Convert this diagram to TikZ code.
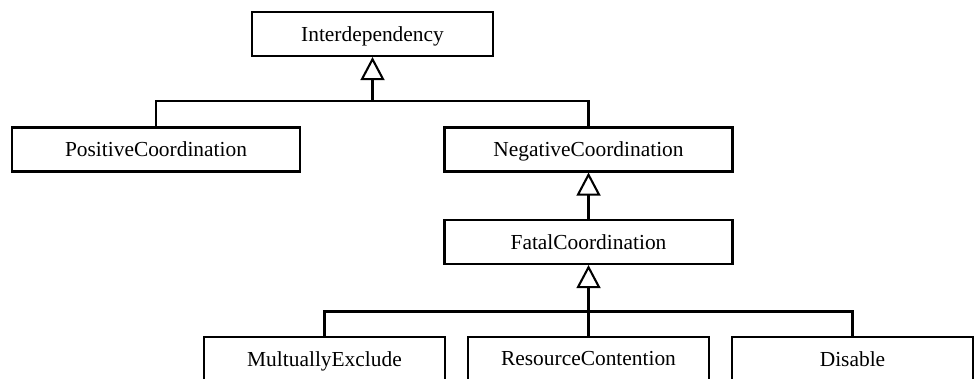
\documentclass[tikz,border=0pt]{standalone}
\usepackage{fontspec}
\setmainfont{Liberation Serif}
\usetikzlibrary{arrows.meta}

\begin{document}
\begin{tikzpicture}[scale=0.22, line width=1.3pt]
				\tikzstyle{every node}+=[inner sep=0pt]
				\tikzstyle{cls}=[draw, black, line width=1.3pt, fill=white, minimum height=27.5pt, text depth=0.5pt, font=\fontsize{13.4}{15}\selectfont]
				\tikzstyle{wide}=[cls, minimum width=180.3pt]
				\tikzstyle{narrow}=[cls, minimum width=150.9pt]
				\tikzstyle{isa}=[-{Triangle[open, length=14.5pt, width=15pt]}]
				\useasboundingbox (0,0) rectangle (98,-37.9);
				\draw (37.25,-3.4) node [narrow] (inter) {Interdependency};
				\draw (15.6,-14.95) node [wide] (pos) {PositiveCoordination};
				\draw (58.85,-14.95) node [wide] (neg) {NegativeCoordination};
				\draw (58.85,-24.2) node [wide] (fatal) {FatalCoordination};
				\draw (32.45,-35.9) node [narrow] (mutex) {MultuallyExclude};
				\draw (58.85,-35.9) node [narrow] (res) {ResourceContention};
				\draw (85.25,-35.9) node [narrow] (dis) {Disable};
				\coordinate (j1) at (37.25,-10.1);
				\coordinate (j2) at (58.85,-31.15);
				\draw [black] (pos.north) |- (j1) -| (neg.north);
				\draw [black, isa] (j1) -- (inter.south);
				\draw [black, isa] (fatal.north) -- (neg.south);
				\draw [black] (mutex.north) |- (j2) -| (dis.north);
				\draw [black] (res.north) -- (j2);
				\draw [black, isa] (j2) -- (fatal.south);
			\end{tikzpicture}
\end{document}
